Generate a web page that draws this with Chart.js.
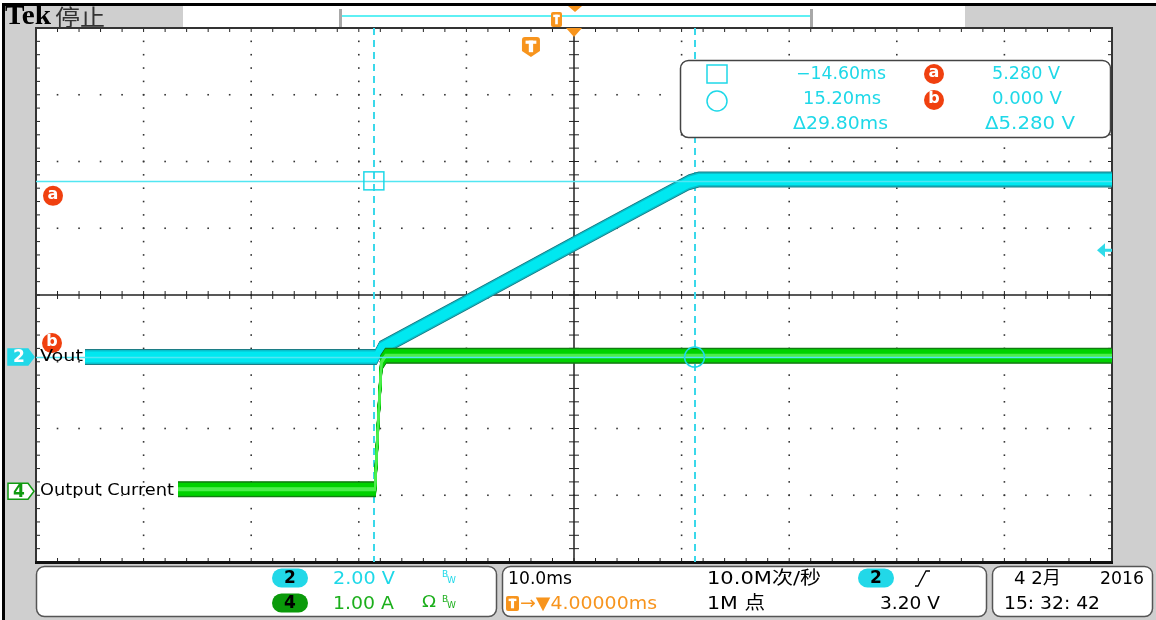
<!DOCTYPE html>
<html>
<head>
<meta charset="utf-8">
<script src="https://cdn.jsdelivr.net/npm/chart.js@4.4.1/dist/chart.umd.min.js"></script>
<style>
  html, body { margin: 0; padding: 0; background: #fff; }
  canvas { display: block; }
</style>
</head>
<body>
<canvas id="scope" width="1156" height="620"></canvas>
<script>
// ===================================
// TRACE DATA (time in ms from trigger)
// ===================================
const voutTime  = [-46, -14.4, -14.0, -12.0, -5.8, 4.0, 10.0, 14.7, 15.6, 54];
const voutVolts = [0, 0, 0.25, 0.6, 1.68, 3.39, 4.43, 5.24, 5.32, 5.32];
const currTime  = [-46, -14.5, -14.2, -13.9, -13.5, 54];
const currAmps  = [0, 0, 1.0, 1.9, 2.0, 2.0];

// cursors: a = square / 5.280 V, b = circle / 0.000 V
const cursorTime  = [-14.60, 15.20];
const cursorVolts = [5.280, 0.000];

// scope settings shown on screen
const timePerDiv = 10;        // ms
const triggerOffset = 4.0;    // ms
const triggerLevel = 3.20;    // V on ch2
const ch2 = { perDiv: 2, pos: -0.93 };
const ch4 = { perDiv: 1, pos: -2.91 };

const FONT = '"DejaVu Sans", "Noto Sans CJK SC", sans-serif';
const CYAN = '#1ed8e8';
const ORANGE = '#f7941d';
const RED = '#f0400f';

function pts(xs, ys) { return xs.map((x, i) => ({ x: x, y: ys[i] })); }

// text squeezed/stretched to a given width
function txt(ctx, s, x, y, o) {
  ctx.save();
  ctx.font = o.font || ('17px ' + FONT);
  ctx.fillStyle = o.color || '#000';
  ctx.textBaseline = 'middle';
  const w = ctx.measureText(s).width;
  const tw = o.w || w;
  let x0 = x;
  if (o.align === 'right') x0 = x - tw;
  else if (o.align === 'center') x0 = x - tw / 2;
  ctx.translate(x0, y);
  ctx.scale(tw / w, 1);
  ctx.fillText(s, 0, 0);
  ctx.restore();
  return tw;
}

function rrect(ctx, x, y, w, h, r) {
  ctx.beginPath();
  ctx.moveTo(x + r, y);
  ctx.arcTo(x + w, y, x + w, y + h, r);
  ctx.arcTo(x + w, y + h, x, y + h, r);
  ctx.arcTo(x, y + h, x, y, r);
  ctx.arcTo(x, y, x + w, y, r);
  ctx.closePath();
}

function badge(ctx, cx, cy, s, fill) {
  rrect(ctx, cx - 18, cy - 9.5, 36, 19, 9.5);
  ctx.fillStyle = fill;
  ctx.fill();
  txt(ctx, s, cx, cy + 1, { font: 'bold 17px ' + FONT, color: '#000', align: 'center' });
}

function redDot(ctx, cx, cy, s) {
  ctx.beginPath();
  ctx.arc(cx, cy, 10, 0, Math.PI * 2);
  ctx.fillStyle = RED;
  ctx.fill();
  txt(ctx, s, cx, cy - 1, { font: 'bold 16px ' + FONT, color: '#fff', align: 'center' });
}

function tIcon(ctx, x, y, w, h, shield) {
  ctx.fillStyle = ORANGE;
  ctx.beginPath();
  if (shield) {
    ctx.moveTo(x + 3, y);
    ctx.lineTo(x + w - 3, y);
    ctx.quadraticCurveTo(x + w, y, x + w, y + 3);
    ctx.lineTo(x + w, y + h - 6);
    ctx.lineTo(x + w / 2, y + h);
    ctx.lineTo(x, y + h - 6);
    ctx.lineTo(x, y + 3);
    ctx.quadraticCurveTo(x, y, x + 3, y);
  } else {
    rrect(ctx, x, y, w, h, 2);
  }
  ctx.fill();
  ctx.fillStyle = '#fff';
  const tw = w * 0.6;
  ctx.fillRect(x + (w - tw) / 2, y + h * 0.18, tw, h * 0.16);
  ctx.fillRect(x + w / 2 - w * 0.12, y + h * 0.18, w * 0.24, h * (shield ? 0.58 : 0.64));
}

// ===================================
// SCREEN FURNITURE PLUGIN
// ===================================
const scopePlugin = {
  id: 'scope',
  beforeDraw(chart) {
    const ctx = chart.ctx;
    const a = chart.chartArea;
    ctx.save();
    ctx.fillStyle = '#fff';
    ctx.fillRect(0, 0, chart.width, chart.height);
    ctx.fillStyle = '#cfcfcf';
    ctx.fillRect(4, 4, chart.width - 4, chart.height - 4);
    ctx.fillStyle = '#000';
    ctx.fillRect(2, 3, 3, chart.height - 3);
    ctx.fillRect(2, 3, chart.width - 2, 3);
    // header
    ctx.fillStyle = '#fff';
    ctx.fillRect(183, 6, 782, a.top - 6);
    ctx.fillStyle = '#a8a8a8';
    ctx.fillRect(339, 9, 3, a.top - 9);
    ctx.fillRect(810, 9, 3, a.top - 9);
    ctx.fillStyle = '#5ff0f4';
    ctx.fillRect(342, 15, 468, 2);
    txt(ctx, 'Tek', 5, 17, { font: 'bold 28px "Liberation Serif", serif', w: 46 });
    txt(ctx, '停止', 55, 17, { font: '22px "Noto Sans CJK SC", sans-serif', color: '#333', w: 50 });
    tIcon(ctx, 551, 12, 11, 15, false);
    ctx.fillStyle = ORANGE;
    ctx.beginPath();
    ctx.moveTo(568, 6); ctx.lineTo(582, 6); ctx.lineTo(575, 12); ctx.closePath(); ctx.fill();
    // graticule background
    ctx.fillStyle = '#fff';
    ctx.fillRect(a.left, a.top, a.right - a.left, a.bottom - a.top);
    // bottom panels
    ctx.lineWidth = 1.5;
    ctx.strokeStyle = '#555';
    [[36, 460], [502, 484], [992, 160]].forEach(function (b) {
      rrect(ctx, b[0] + 0.5, 566.5, b[1], 50, 8);
      ctx.fillStyle = '#fff';
      ctx.fill();
      ctx.stroke();
    });
    ctx.restore();
  },
  beforeDatasetsDraw(chart) {
    const ctx = chart.ctx;
    const a = chart.chartArea;
    const dx = (a.right - a.left) / 10, dy = (a.bottom - a.top) / 8;
    const cx = a.left + 5 * dx, cy = a.top + 4 * dy;
    ctx.save();
    ctx.fillStyle = '#333';
    for (let i = 1; i < 10; i++) {
      if (i === 5) continue;
      for (let j = 0; j <= 40; j++) ctx.fillRect(a.left + i * dx - 0.8, a.top + j * dy / 5 - 0.8, 1.6, 1.6);
    }
    for (let k = 1; k < 8; k++) {
      if (k === 4) continue;
      for (let m = 0; m <= 50; m++) ctx.fillRect(a.left + m * dx / 5 - 0.8, a.top + k * dy - 0.8, 1.6, 1.6);
    }
    // center cross with ticks
    ctx.strokeStyle = '#222';
    ctx.lineWidth = 1.5;
    ctx.beginPath();
    ctx.moveTo(a.left, cy); ctx.lineTo(a.right, cy);
    ctx.moveTo(cx, a.top); ctx.lineTo(cx, a.bottom);
    ctx.stroke();
    ctx.lineWidth = 1;
    ctx.beginPath();
    for (let m = 0; m <= 50; m++) {
      const x = a.left + m * dx / 5;
      ctx.moveTo(x, cy - 4); ctx.lineTo(x, cy + 4);
      ctx.moveTo(x, a.top); ctx.lineTo(x, a.top + 4);
      ctx.moveTo(x, a.bottom); ctx.lineTo(x, a.bottom - 4);
    }
    for (let j = 0; j <= 40; j++) {
      const y = a.top + j * dy / 5;
      ctx.moveTo(cx - 5, y); ctx.lineTo(cx + 5, y);
      ctx.moveTo(a.left, y); ctx.lineTo(a.left + 4, y);
      ctx.moveTo(a.right, y); ctx.lineTo(a.right - 4, y);
    }
    ctx.stroke();
    // frame
    ctx.strokeStyle = '#333';
    ctx.lineWidth = 2;
    ctx.beginPath();
    ctx.moveTo(a.left, a.bottom); ctx.lineTo(a.left, a.top); ctx.lineTo(a.right, a.top); ctx.lineTo(a.right, a.bottom);
    ctx.stroke();
    ctx.fillStyle = '#111';
    ctx.fillRect(a.left - 1, a.bottom - 1, a.right - a.left + 2, 3);

    // vertical cursors (dashed)
    const xs = chart.scales.x;
    ctx.strokeStyle = '#3ad8ea';
    ctx.lineWidth = 2;
    ctx.setLineDash([7, 5]);
    ctx.beginPath();
    cursorTime.forEach(function (t) {
      const x = Math.round(xs.getPixelForValue(t));
      ctx.moveTo(x, a.top); ctx.lineTo(x, a.bottom);
    });
    ctx.stroke();
    ctx.restore();
  },
  afterDatasetsDraw(chart) {
    const ctx = chart.ctx;
    const a = chart.chartArea;
    const xs = chart.scales.x, yv = chart.scales.yV, ya = chart.scales.yA;
    ctx.save();
    // horizontal cursors sit over the traces
    ctx.lineWidth = 1.5;
    ctx.strokeStyle = '#52e6f2';
    ctx.beginPath();
    cursorVolts.forEach(function (v) {
      const y = Math.round(yv.getPixelForValue(v)) + 0.5;
      ctx.moveTo(a.left, y); ctx.lineTo(a.right, y);
    });
    ctx.stroke();
    // cursor symbols
    const xa = xs.getPixelForValue(cursorTime[0]), yA = yv.getPixelForValue(cursorVolts[0]);
    const xb = xs.getPixelForValue(cursorTime[1]), yB = yv.getPixelForValue(cursorVolts[1]);
    ctx.strokeStyle = CYAN;
    ctx.lineWidth = 1.5;
    ctx.strokeRect(xa - 10, yA - 9, 20, 18);
    ctx.beginPath();
    ctx.arc(xb, yB, 10, 0, Math.PI * 2);
    ctx.stroke();
    redDot(ctx, 53, yA + 15, 'a');
    redDot(ctx, 52, yB - 14, 'b');

    // channel markers + labels
    const y2 = yv.getPixelForValue(0), y4 = ya.getPixelForValue(0);
    function marker(y, fill, stroke, s, tc) {
      ctx.beginPath();
      ctx.moveTo(8, y - 8); ctx.lineTo(28, y - 8); ctx.lineTo(34, y);
      ctx.lineTo(28, y + 8); ctx.lineTo(8, y + 8); ctx.closePath();
      ctx.fillStyle = fill; ctx.fill();
      ctx.lineWidth = 1.5; ctx.strokeStyle = stroke; ctx.stroke();
      txt(ctx, s, 19, y + 1, { font: 'bold 17px ' + FONT, color: tc, align: 'center' });
    }
    marker(y2, '#22d8e8', '#22d8e8', '2', '#fff');
    marker(y4 + 2, '#fff', '#109a10', '4', '#109a10');
    txt(ctx, 'Vout', 40, y2, { font: '16px ' + FONT, w: 43 });
    txt(ctx, 'Output Current', 40, y4 + 2, { font: '16px ' + FONT, w: 134 });

    // trigger markers
    const xt = xs.getPixelForValue(0);
    tIcon(ctx, xt - 9, 37, 18, 20, true);
    const xc = (a.left + a.right) / 2;
    ctx.fillStyle = ORANGE;
    ctx.beginPath();
    ctx.moveTo(xc - 8, a.top); ctx.lineTo(xc + 8, a.top); ctx.lineTo(xc, a.top + 9); ctx.closePath(); ctx.fill();
    const yt = yv.getPixelForValue(triggerLevel);
    ctx.fillStyle = '#30dbe9';
    ctx.beginPath();
    ctx.moveTo(a.right - 15, yt); ctx.lineTo(a.right - 7, yt - 7); ctx.lineTo(a.right - 7, yt + 7); ctx.closePath(); ctx.fill();
    ctx.fillRect(a.right - 8, yt - 1.5, 8, 3);

    // cursor readout
    rrect(ctx, 680.5, 60.5, 430, 77, 8);
    ctx.fillStyle = '#fff'; ctx.fill();
    ctx.strokeStyle = '#444'; ctx.lineWidth = 1.5; ctx.stroke();
    ctx.strokeStyle = CYAN; ctx.lineWidth = 1.5;
    ctx.strokeRect(707, 65, 20, 18);
    ctx.beginPath(); ctx.arc(717, 101, 10, 0, Math.PI * 2); ctx.stroke();
    const fmtT = function (t) { return (t < 0 ? '−' : '') + Math.abs(t).toFixed(2) + 'ms'; };
    const f17 = '17px ' + FONT;
    txt(ctx, fmtT(cursorTime[0]), 886, 75, { font: f17, color: CYAN, align: 'right', w: 90 });
    txt(ctx, fmtT(cursorTime[1]), 881, 100, { font: f17, color: CYAN, align: 'right', w: 78 });
    txt(ctx, 'Δ' + (cursorTime[1] - cursorTime[0]).toFixed(2) + 'ms', 888, 125, { font: f17, color: CYAN, align: 'right', w: 95 });
    redDot(ctx, 934, 74, 'a');
    redDot(ctx, 934, 100, 'b');
    txt(ctx, cursorVolts[0].toFixed(3) + ' V', 1060, 75, { font: f17, color: CYAN, align: 'right', w: 68 });
    txt(ctx, cursorVolts[1].toFixed(3) + ' V', 1062, 100, { font: f17, color: CYAN, align: 'right', w: 70 });
    txt(ctx, 'Δ' + Math.abs(cursorVolts[0] - cursorVolts[1]).toFixed(3) + ' V', 1075, 125, { font: f17, color: CYAN, align: 'right', w: 90 });

    // bottom status bar
    const f18 = '18px ' + FONT;
    const green = '#1caf1c';
    badge(ctx, 290, 578, '2', '#22d8e8');
    txt(ctx, ch2.perDiv.toFixed(2) + ' V', 333, 579, { font: f18, color: CYAN, w: 62 });
    badge(ctx, 290, 603, '4', '#0a9a0a');
    txt(ctx, ch4.perDiv.toFixed(2) + ' A', 333, 604, { font: f18, color: green, w: 61 });
    txt(ctx, 'B', 442, 575, { font: '9px ' + FONT, color: CYAN });
    txt(ctx, 'W', 447, 581, { font: '9px ' + FONT, color: CYAN });
    txt(ctx, 'Ω', 422, 603, { font: '16px ' + FONT, color: green, w: 14 });
    txt(ctx, 'B', 442, 600, { font: '9px ' + FONT, color: green });
    txt(ctx, 'W', 447, 606, { font: '9px ' + FONT, color: green });

    txt(ctx, timePerDiv.toFixed(1) + 'ms', 508, 579, { font: f18, w: 64 });
    tIcon(ctx, 506, 596, 13, 15, false);
    txt(ctx, '→▼' + triggerOffset.toFixed(5) + 'ms', 520, 604, { font: f18, color: ORANGE, w: 137 });
    txt(ctx, '10.0M次/秒', 707, 579, { font: f18, w: 114 });
    txt(ctx, '1M 点', 707, 604, { font: f18, w: 58 });
    badge(ctx, 876, 578, '2', '#22d8e8');
    ctx.strokeStyle = '#000'; ctx.lineWidth = 1.3;
    ctx.beginPath(); ctx.moveTo(915, 586); ctx.lineTo(918, 586); ctx.lineTo(926, 571); ctx.lineTo(930, 571); ctx.stroke();
    txt(ctx, triggerLevel.toFixed(2) + ' V', 880, 604, { font: f18, w: 60 });

    txt(ctx, '4 2月', 1014, 579, { font: f18, w: 47 });
    txt(ctx, '2016', 1100, 579, { font: f18, w: 44 });
    txt(ctx, '15: 32: 42', 1004, 604, { font: f18, w: 96 });
    ctx.restore();
  }
};

// traces are thickened vertically (noise band) by redrawing the line element shifted up/down
const bandPlugin = {
  id: 'band',
  beforeDatasetDraw(chart, args) {
    const ds = chart.data.datasets[args.index];
    if (!ds.band) return;
    const ctx = chart.ctx;
    const a = chart.chartArea;
    ctx.save();
    ctx.beginPath();
    ctx.rect(ds.clipLeft, a.top, a.right - ds.clipLeft, a.bottom - a.top);
    ctx.clip();
    for (let off = -ds.band; off <= ds.band; off += 0.5) {
      ctx.save();
      ctx.translate(0, off);
      args.meta.dataset.draw(ctx, a);
      ctx.restore();
    }
    ctx.restore();
    return false;
  }
};

// ===================================
// CHART CONFIG
// ===================================
const voutPts = pts(voutTime, voutVolts);
const currPts = pts(currTime, currAmps);
const line = function (data, axis, color, band, clipLeft, order) {
  return { data: data, yAxisID: axis, borderColor: color, borderWidth: 2, band: band,
           clipLeft: clipLeft, order: order, pointRadius: 0, tension: 0, fill: false };
};

new Chart(document.getElementById('scope').getContext('2d'), {
  type: 'line',
  data: {
    datasets: [
      line(currPts, 'yA', '#4cee4c', 1, 178, 0),
      line(currPts, 'yA', '#00d200', 5.5, 178, 1),
      line(currPts, 'yA', '#137c13', 7, 178, 2),
      line(voutPts, 'yV', '#00e8f0', 4.5, 85, 3),
      line(voutPts, 'yV', '#08c0cc', 6, 85, 4),
      line(voutPts, 'yV', '#1d7e86', 7, 85, 5)
    ]
  },
  options: {
    responsive: false,
    animation: false,
    layout: { padding: { left: 36, right: 44, top: 28, bottom: 58 } },
    plugins: { legend: { display: false }, tooltip: { enabled: false } },
    scales: {
      x: { type: 'linear', display: false, min: triggerOffset - 5 * timePerDiv, max: triggerOffset + 5 * timePerDiv },
      yV: { type: 'linear', display: false, min: (-4 - ch2.pos) * ch2.perDiv, max: (4 - ch2.pos) * ch2.perDiv },
      yA: { type: 'linear', display: false, min: (-4 - ch4.pos) * ch4.perDiv, max: (4 - ch4.pos) * ch4.perDiv }
    }
  },
  plugins: [bandPlugin, scopePlugin]
});
</script>
</body>
</html>
